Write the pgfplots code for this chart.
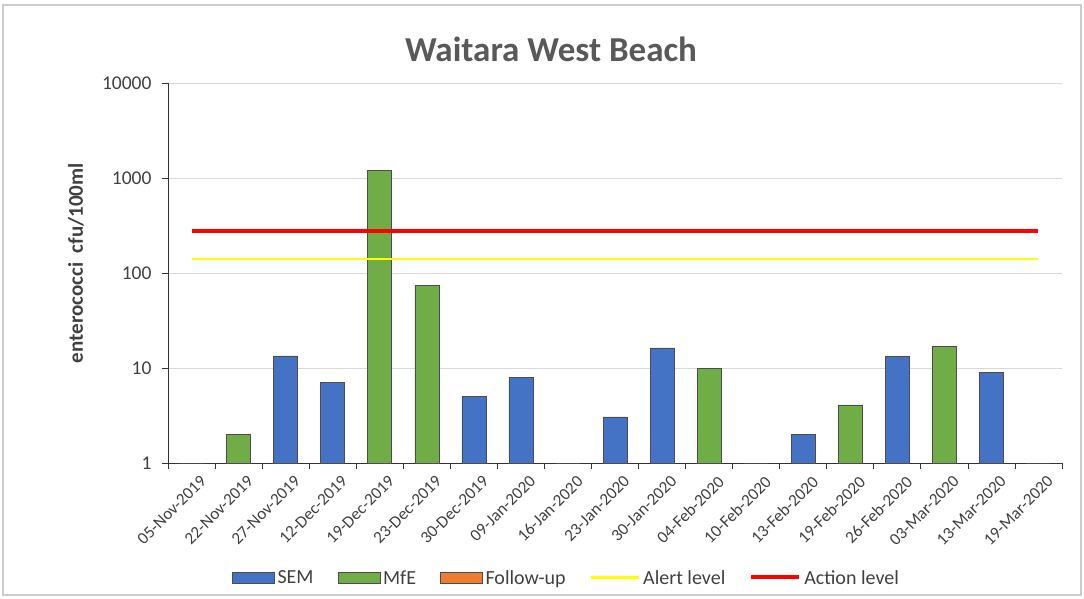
\documentclass[border=0pt]{standalone}
\usepackage{pgfplots}
\pgfplotsset{compat=1.18}
\usepackage{fontspec}
\setmainfont{Carlito}
\definecolor{sem}{HTML}{4472C4}
\definecolor{mfe}{HTML}{70AD47}
\definecolor{fup}{HTML}{ED7D31}
\definecolor{alertc}{HTML}{FFFF00}
\definecolor{actionc}{HTML}{FF0000}
\definecolor{txt}{HTML}{404040}
\definecolor{titlec}{HTML}{595959}
\begin{document}
\begin{tikzpicture}[x=1pt,y=1pt]
\useasboundingbox (-168,-135) rectangle (916,463);
\draw[gray!40, line width=1.2pt] (-165,-132) rectangle (913,458);
\begin{axis}[
  at={(0,0)}, anchor=south west,
  scale only axis, width=894pt, height=380pt,
  ymode=log, ymin=1, ymax=10000,
  xmin=-0.5, xmax=18.5,
  axis x line*=bottom, axis y line*=left,
  axis line style={black!80, line width=0.8pt},
  ytick={1,10,100,1000,10000},
  yticklabels={1,10,100,1000,10000},
  yminorticks=false,
  ymajorgrids, grid style={gray!30, line width=0.6pt},
  xtick={0,...,18},
  xticklabels={05-Nov-2019,22-Nov-2019,27-Nov-2019,12-Dec-2019,19-Dec-2019,23-Dec-2019,30-Dec-2019,09-Jan-2020,16-Jan-2020,23-Jan-2020,30-Jan-2020,04-Feb-2020,10-Feb-2020,13-Feb-2020,19-Feb-2020,26-Feb-2020,03-Mar-2020,13-Mar-2020,19-Mar-2020},
  minor xtick={-0.5,0.5,...,18.5},
  major x tick style={draw=none},
  tick align=outside, major tick length=6pt, minor tick length=6pt,
  tick style={black!80, line width=0.8pt},
  x tick label style={rotate=45, anchor=north east, font=\fontsize{17}{19}\selectfont, text=txt, xshift=5pt, yshift=-6pt},
  y tick label style={font=\fontsize{19.5}{21}\selectfont, text=txt, xshift=-7pt},
  /pgf/number format/assume math mode=true,
  ylabel={\textbf{enterococci\ \ cfu/100ml}},
  ylabel style={font=\fontsize{21}{23}\selectfont, text=txt, at={(axis description cs:-0.103,0.526)}, anchor=center},
  ybar, bar width=24pt,
  legend columns=5,
  legend style={at={(0.4457,-0.3026)}, anchor=center, draw=none, fill=none, font=\fontsize{20}{22}\selectfont, text=txt,
    /tikz/every odd column/.append style={column sep=1pt},
    /tikz/every even column/.append style={column sep=22pt}},
]
\addplot[bar shift=0pt, fill=sem, draw=black!70, line width=0.5pt, area legend,
  legend image code/.code={\draw[fill=sem, draw=black!70] (0pt,-5pt) rectangle (42pt,6pt);}]
  coordinates {(2,13.4) (3,7.1) (6,5) (7,8) (9,3.05) (10,16.3) (13,2) (15,13.2) (17,9)};
\addlegendentry{SEM}
\addplot[bar shift=0pt, fill=mfe, draw=black!70, line width=0.5pt, area legend,
  legend image code/.code={\draw[fill=mfe, draw=black!70] (0pt,-5pt) rectangle (42pt,6pt);}]
  coordinates {(1,2) (4,1200) (5,74) (11,10) (14,4.1) (16,17)};
\addlegendentry{MfE}
\addplot[bar shift=0pt, fill=fup, draw=black!70, line width=0.5pt, area legend,
  legend image code/.code={\draw[fill=fup, draw=black!70] (0pt,-5pt) rectangle (42pt,6pt);}]
  coordinates {(0,1) (8,1) (12,1) (18,1)};
\addlegendentry{Follow-up}
\addplot[sharp plot, no markers, alertc, line width=2pt,
  legend image code/.code={\draw[alertc, line width=2.5pt] (0pt,0.5pt) -- (48pt,0.5pt);}]
  coordinates {(0,140) (18,140)};
\addlegendentry{Alert level}
\addplot[sharp plot, no markers, actionc, line width=4pt,
  legend image code/.code={\draw[actionc, line width=4pt] (0pt,0.5pt) -- (48pt,0.5pt);}]
  coordinates {(0,280) (18,280)};
\addlegendentry{Action level}
\end{axis}
\node[font=\bfseries\fontsize{35}{40}\selectfont, text=titlec] at (383,414) {Waitara West Beach};
\end{tikzpicture}
\end{document}
